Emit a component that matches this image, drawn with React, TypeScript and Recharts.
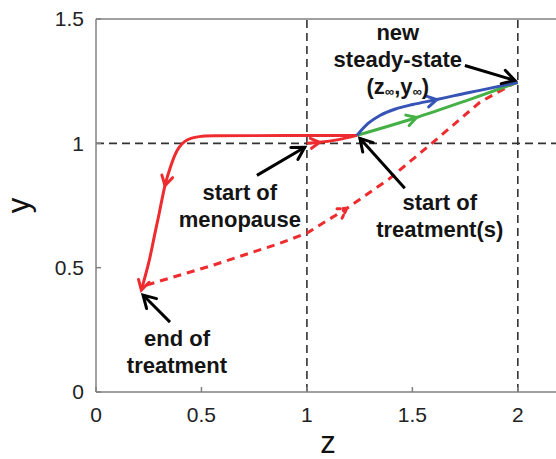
import React from "react";
import { ComposedChart, Line, XAxis, YAxis, ReferenceLine, Scatter } from "recharts";

// ---- data ----
const X_TICKS = [0, 0.5, 1, 1.5, 2];
const Y_TICKS = [0, 0.5, 1, 1.5];
const X_DOMAIN = [0, 2.2];
const Y_DOMAIN = [0, 1.5];

// onset of menopause: (1,1) drifting right to start of treatment
const menoZ = [1.0, 1.06, 1.15, 1.237];
const menoY = [1.0, 1.004, 1.015, 1.032];
const menoArrows = [1];

// solid red: back left then down to end of treatment
const declineZ = [1.237, 1.0, 0.75, 0.56, 0.49, 0.45, 0.42, 0.395, 0.375, 0.355, 0.327, 0.3, 0.275, 0.25, 0.215];
const declineY = [1.032, 1.032, 1.031, 1.03, 1.027, 1.02, 1.007, 0.985, 0.955, 0.91, 0.83, 0.72, 0.62, 0.52, 0.41];
const declineArrows = [10, 14];

// dashed red: after end of treatment up to new steady state
const recoverZ = [0.24, 0.555, 0.872, 1.0, 1.19, 1.393, 1.592, 1.82, 2.0];
const recoverY = [0.43, 0.51, 0.598, 0.639, 0.739, 0.859, 1.0, 1.165, 1.25];
const recoverArrows = [4];

// treatments
const blueZ = [1.237, 1.29, 1.346, 1.42, 1.502, 1.616, 1.7, 1.82, 2.0];
const blueY = [1.032, 1.08, 1.112, 1.138, 1.156, 1.176, 1.192, 1.213, 1.245];
const blueArrows = [5];
const greenZ = [1.237, 1.52, 1.75, 2.0];
const greenY = [1.032, 1.104, 1.17, 1.245];
const greenArrows = [1];

// annotations
const noteZ = [1.431, 0.682, 1.63, 0.384];
const noteY = [1.446, 0.803, 0.763, 0.217];
const noteLines = [
  ["new", "steady-state", "(z∞,y∞)"],
  ["start of", "menopause"],
  ["start of", "treatment(s)"],
  ["end of", "treatment"],
];
const pointerTail = [
  [1.749, 1.313],
  [0.763, 0.871],
  [1.464, 0.819],
  [0.351, 0.281],
];
const pointerHead = [
  [1.986, 1.253],
  [0.99, 0.984],
  [1.251, 1.02],
  [0.223, 0.39],
];

const zip = (zs: number[], ys: number[]) => zs.map((z, i) => ({ z, y: ys[i] }));

const RED = "#ee2b2e";
const BLUE = "#3554b5";
const GREEN = "#45b045";
const AXIS_GRAY = "#808080";
const FONT = "'Liberation Sans', Arial, sans-serif";

// chevron arrowhead drawn at chosen vertices, oriented along the line
const chevron = (idx: number[], color: string, len: number, width: number, dash?: string) =>
  (props: any) => {
    const { cx, cy, index, points } = props;
    if (!idx.includes(index) || !points) return <g key={`dot-${index}`} />;
    const a = points[Math.max(index - 1, 0)];
    const b = points[Math.min(index + 1, points.length - 1)];
    const th = Math.atan2(b.y - a.y, b.x - a.x);
    const w = Math.PI / 6;
    const x1 = cx - len * Math.cos(th - w), y1 = cy - len * Math.sin(th - w);
    const x2 = cx - len * Math.cos(th + w), y2 = cy - len * Math.sin(th + w);
    return (
      <path key={`dot-${index}`} d={`M${x1},${y1}L${cx},${cy}L${x2},${y2}`}
        fill="none" stroke={color} strokeWidth={width} strokeDasharray={dash} strokeLinecap="round" />
    );
  };

const NoteText = (props: any) => {
  const { cx, cy, payload } = props;
  return (
    <text x={cx} y={cy} textAnchor="middle" dominantBaseline="central"
      fontFamily={FONT} fontWeight="bold" fontSize={22} fill="#141414">
      {payload.lines.map((ln: string, i: number) => {
        const parts = ln.split("∞");
        return (
          <tspan key={i} x={cx} y={cy + i * 27}>
            {parts.map((p, j) => (
              <React.Fragment key={j}>
                {j > 0 && <tspan dy={5} fontSize={13}>∞</tspan>}
                <tspan dy={j > 0 ? -5 : 0}>{p}</tspan>
              </React.Fragment>
            ))}
          </tspan>
        );
      })}
    </text>
  );
};

const TICK = { fontSize: 21, fill: "#222", fontFamily: FONT };

export default function App() {
  const notes = noteZ.map((z, i) => ({ z, y: noteY[i], lines: noteLines[i] }));
  return (
    <div style={{ position: "absolute", left: 0, top: 0, width: 556, height: 459, overflow: "hidden", background: "#fff" }}>
      <ComposedChart width={565} height={459} margin={{ top: 0, right: 0, left: 0, bottom: 0 }}>
        <XAxis xAxisId={0} dataKey="z" type="number" domain={X_DOMAIN} ticks={X_TICKS} allowDataOverflow
          height={67} tickSize={-5} tickMargin={20} tick={TICK}
          axisLine={{ stroke: AXIS_GRAY, strokeWidth: 1.5 }} tickLine={{ stroke: AXIS_GRAY, strokeWidth: 1.5 }}
          label={{ value: "z", position: "insideBottom", offset: 6, fontSize: 31, fill: "#111", fontFamily: FONT }} />
        <XAxis xAxisId="top" orientation="top" dataKey="z" type="number" domain={X_DOMAIN} ticks={X_TICKS}
          allowDataOverflow height={19} tickSize={-5} tick={false}
          axisLine={{ stroke: AXIS_GRAY, strokeWidth: 1.5 }} tickLine={{ stroke: AXIS_GRAY, strokeWidth: 1.5 }} />
        <YAxis yAxisId={0} type="number" domain={Y_DOMAIN} ticks={Y_TICKS} allowDataOverflow
          width={96} tickSize={-5} tickMargin={17} tick={TICK}
          axisLine={{ stroke: AXIS_GRAY, strokeWidth: 1.5 }} tickLine={{ stroke: AXIS_GRAY, strokeWidth: 1.5 }}
          label={{
            content: (p: any) => {
              const vb = p.viewBox;
              return (
                <text x={0} y={0} transform={`translate(29,${vb.y + vb.height / 2}) rotate(-90)`}
                  textAnchor="middle" fontSize={31} fill="#111" fontFamily={FONT}>y</text>
              );
            },
          }} />
        <YAxis yAxisId="right" orientation="right" type="number" domain={Y_DOMAIN} ticks={Y_TICKS}
          allowDataOverflow width={5} tickSize={-5} tick={false}
          axisLine={{ stroke: AXIS_GRAY, strokeWidth: 1.5 }} tickLine={{ stroke: AXIS_GRAY, strokeWidth: 1.5 }} />

        <ReferenceLine x={1} stroke="#333" strokeWidth={1.6} strokeDasharray="8 5" />
        <ReferenceLine x={2} stroke="#333" strokeWidth={1.6} strokeDasharray="8 5" />
        <ReferenceLine y={1} stroke="#333" strokeWidth={1.6} strokeDasharray="8 5" />

        <Line data={zip(recoverZ, recoverY)} dataKey="y" type="linear" stroke={RED} strokeWidth={3}
          strokeDasharray="8 6" dot={chevron(recoverArrows, RED, 11, 3, "3 3")} activeDot={false}
          isAnimationActive={false} />
        <Line data={zip(declineZ, declineY)} dataKey="y" type="natural" stroke={RED} strokeWidth={3}
          dot={chevron(declineArrows, RED, 11, 3)} activeDot={false} isAnimationActive={false} />
        <Line data={zip(menoZ, menoY)} dataKey="y" type="monotone" stroke={RED} strokeWidth={3}
          dot={chevron(menoArrows, RED, 10, 3)} activeDot={false} isAnimationActive={false} />
        <Line data={zip(greenZ, greenY)} dataKey="y" type="monotone" stroke={GREEN} strokeWidth={3}
          dot={chevron(greenArrows, GREEN, 11, 3)} activeDot={false} isAnimationActive={false} />
        <Line data={zip(blueZ, blueY)} dataKey="y" type="monotone" stroke={BLUE} strokeWidth={3}
          dot={chevron(blueArrows, BLUE, 11, 3)} activeDot={false} isAnimationActive={false} />

        {pointerTail.map((t, i) => (
          <Line key={`ptr-${i}`}
            data={[{ z: t[0], y: t[1] }, { z: pointerHead[i][0], y: pointerHead[i][1] }]}
            dataKey="y" type="linear" stroke="#000" strokeWidth={3}
            dot={chevron([1], "#000", 14, 3)} activeDot={false} isAnimationActive={false} />
        ))}

        <Scatter data={notes} dataKey="y" shape={NoteText} isAnimationActive={false} />
      </ComposedChart>
    </div>
  );
}
